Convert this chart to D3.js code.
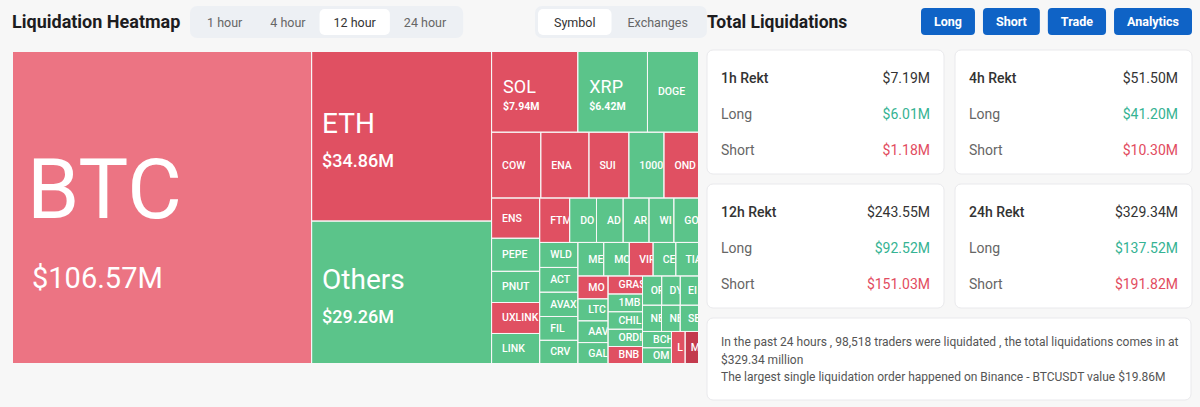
<!DOCTYPE html>
<html><head><meta charset="utf-8">
<script src="https://cdn.jsdelivr.net/npm/d3@7"></script>
<style>
html,body{margin:0;padding:0;background:#f7f7f7;}
svg{display:block;font-family:Roboto,"DejaVu Sans",sans-serif;}
</style></head><body>
<svg id="c" width="1200" height="407"></svg>
<script>
// ---------- data ----------
const symbols = ["BTC","ETH","Others","SOL","XRP","DOGE","COW","ENA","SUI","1000BONK","ONDO",
  "ENS","PEPE","PNUT","UXLINK","LINK","FTM","DOT","ADA","ARB","WIF","GOAT",
  "WLD","ACT","AVAX","FIL","CRV","ME","MOVE","VIRTUAL","CETUS","TIA",
  "MOODENG","LTC","AAVE","GALA","GRASS","1MBABYDOGE","CHILLGUY","ORDI","BNB",
  "OP","DYDX","EIGEN","NEAR","NEIRO","SEI","BCH","OM","LDO","MKR"];
const liqValues = [106.57,34.86,29.26,7.94,6.42,4.70,3.70,3.62,3.00,2.64,2.60,
  2.21,1.82,1.71,1.70,1.65,1.52,1.36,1.35,1.31,1.26,1.25,
  1.09,1.08,1.06,1.04,1.01,0.99,0.98,0.91,0.87,0.87,
  0.79,0.76,0.75,0.72,0.71,0.70,0.69,0.68,0.67,
  0.64,0.62,0.61,0.57,0.56,0.55,0.54,0.52,0.50,0.49];
// dominant side: P = short (light), R = short, D = short (deep), G = long
const sides = ["P","R","G","R","G","G","R","R","R","G","R",
  "R","G","G","R","G","R","G","G","G","G","G",
  "G","G","G","G","G","G","G","R","G","G",
  "R","G","G","G","R","G","G","G","R",
  "G","G","G","G","G","G","G","G","R","D"];
const timeTabs = ["1 hour","4 hour","12 hour","24 hour"];
const activeTimeTab = "12 hour";
const viewTabs = ["Symbol","Exchanges"];
const activeViewTab = "Symbol";
const actionButtons = ["Long","Short","Trade","Analytics"];
const periods = ["1h","4h","12h","24h"];
const rektTotals = [7.19,51.50,243.55,329.34];
const rektLongs = [6.01,41.20,92.52,137.52];
const rektShorts = [1.18,10.30,151.03,191.82];
const summaryLines = [
  "In the past 24 hours , 98,518 traders were liquidated , the total liquidations comes in at",
  "$329.34 million",
  "The largest single liquidation order happened on Binance - BTCUSDT value $19.86M"
];

// ---------- setup ----------
const svg = d3.select("#c");
const money = v => d3.format("$,.2f")(v) + "M";
const sideColor = d3.scaleOrdinal().domain(["P","R","D","G"])
  .range(["#ec7483","#e05062","#c33a4d","#5bc48a"]);

// ---------- left header ----------
svg.append("text").attr("x",12).attr("y",28).attr("font-size",18).attr("font-weight",700)
  .attr("fill","#1d1d1f").text("Liquidation Heatmap");

function tabGroup(x, y, h, labels, active, pad){
  const g = svg.append("g");
  const bg = g.append("rect").attr("x",x).attr("y",y).attr("height",h).attr("rx",7).attr("fill","#edf0f4");
  let cx = x + 3;
  labels.forEach(l => {
    const t = g.append("text").attr("font-size",12.5).attr("fill", l===active?"#333":"#666")
      .attr("dominant-baseline","central").attr("text-anchor","middle").text(l);
    const w = t.node().getComputedTextLength() + pad*2;
    if (l===active) g.insert("rect","text").attr("x",cx).attr("y",y+3).attr("width",w).attr("height",h-6)
      .attr("rx",5).attr("fill","#fff");
    t.attr("x", cx + w/2).attr("y", y + h/2);
    cx += w;
  });
  bg.attr("width", cx + 3 - x);
}
tabGroup(190, 6, 32, timeTabs, activeTimeTab, 14);
tabGroup(535, 6, 32, viewTabs, activeViewTab, 16);

// ---------- treemap ----------
const tmX = 13, tmY = 52, tmW = 685, tmH = 311;
const root = d3.hierarchy({children: symbols.map((s,i)=>({name:s, value:liqValues[i], side:sides[i]}))})
  .sum(d => d.value || 0)
  .sort((a,b) => b.value - a.value);
d3.treemap().tile(d3.treemapSquarify).size([tmW, tmH]).paddingInner(1)(root);

const tm = svg.append("g").attr("transform",`translate(${tmX},${tmY})`);
const defs = svg.append("defs");
const leaves = root.leaves();
leaves.forEach((d,i) => {
  defs.append("clipPath").attr("id","clip"+i).append("rect")
    .attr("x",d.x0).attr("y",d.y0).attr("width",d.x1-d.x0).attr("height",d.y1-d.y0);
});
const cell = tm.selectAll("g.cell").data(leaves).join("g").attr("class","cell")
  .attr("clip-path",(d,i)=>`url(#clip${i})`);
cell.append("rect")
  .attr("x",d=>d.x0).attr("y",d=>d.y0)
  .attr("width",d=>d.x1-d.x0).attr("height",d=>d.y1-d.y0)
  .attr("fill",d=>sideColor(d.data.side));

cell.each(function(d){
  const g = d3.select(this);
  const w = d.x1-d.x0, h = d.y1-d.y0, cy = (d.y0+d.y1)/2;
  if (w > 250) {
    g.append("text").attr("x",d.x0+14).attr("y",cy+10).attr("font-size",84).attr("fill","#fff").text(d.data.name);
    g.append("text").attr("x",d.x0+19).attr("y",cy+80).attr("font-size",29).attr("fill","#fff").text(money(d.data.value));
  } else if (w > 120) {
    g.append("text").attr("x",d.x0+10).attr("y",cy-3).attr("font-size",28).attr("fill","#fff").text(d.data.name);
    g.append("text").attr("x",d.x0+10).attr("y",cy+31).attr("font-size",18).attr("font-weight",500).attr("fill","#fff").text(money(d.data.value));
  } else if (w > 60 && h > 60) {
    g.append("text").attr("x",d.x0+11).attr("y",cy+1).attr("font-size",18).attr("fill","#fff").text(d.data.name);
    g.append("text").attr("x",d.x0+11).attr("y",cy+18).attr("font-size",10.5).attr("font-weight",700).attr("fill","#fff").text(money(d.data.value));
  } else {
    const pad = Math.min(10, 0.42*w);
    const t = g.append("text").attr("x",d.x0+pad).attr("y",cy).attr("dominant-baseline","central")
      .attr("font-size",10.5).attr("font-weight",500).attr("fill","#fff").text(d.data.name);
    // keep only the part of the symbol that shows inside its cell
    let s = d.data.name;
    while (s.length > 1 && t.node().getComputedTextLength() > w - pad + 4) {
      s = s.slice(0, -1); t.text(s);
    }
  }
});

// ---------- right header ----------
svg.append("text").attr("x",707).attr("y",28).attr("font-size",17.5).attr("font-weight",700)
  .attr("fill","#1d1d1f").text("Total Liquidations");
(function(){
  const g = svg.append("g");
  const widths = actionButtons.map(l => {
    const t = g.append("text").attr("font-size",12.5).attr("font-weight",700).text(l);
    const w = t.node().getComputedTextLength(); t.remove(); return w + 26;
  });
  let x = 1192 - d3.sum(widths) - 8*(actionButtons.length-1);
  actionButtons.forEach((l,i) => {
    g.append("rect").attr("x",x).attr("y",8).attr("width",widths[i]).attr("height",27).attr("rx",4).attr("fill","#0f63c6");
    g.append("text").attr("x",x+widths[i]/2).attr("y",21.5).attr("dominant-baseline","central")
      .attr("text-anchor","middle").attr("font-size",12.5).attr("font-weight",700).attr("fill","#fff").text(l);
    x += widths[i] + 8;
  });
})();

// ---------- cards ----------
function card(x,y,w,h){
  svg.append("rect").attr("x",x).attr("y",y).attr("width",w).attr("height",h).attr("rx",6)
    .attr("fill","#fff").attr("stroke","#e9e9ec");
}
const cardPos = [[707,50],[955,50],[707,184],[955,184]];
periods.forEach((p,i) => {
  const [x,y] = cardPos[i], w = 237, h = 124;
  card(x,y,w,h);
  const rows = [
    {label: p + " Rekt", value: money(rektTotals[i]), lc:"#333", vc:"#333", lw:500},
    {label: "Long", value: money(rektLongs[i]), lc:"#666", vc:"#35b393", lw:400},
    {label: "Short", value: money(rektShorts[i]), lc:"#666", vc:"#e24c60", lw:400}
  ];
  rows.forEach((r,k) => {
    const ty = y + 28 + k*36;
    svg.append("text").attr("x",x+14).attr("y",ty).attr("dominant-baseline","central")
      .attr("font-size",14).attr("font-weight",r.lw).attr("fill",r.lc).text(r.label);
    svg.append("text").attr("x",x+w-14).attr("y",ty).attr("dominant-baseline","central")
      .attr("text-anchor","end").attr("font-size",14).attr("fill",r.vc).text(r.value);
  });
});
card(707,318,484,82);
summaryLines.forEach((l,k) => {
  svg.append("text").attr("x",721).attr("y",342 + k*17.5).attr("dominant-baseline","central")
    .attr("font-size",12).attr("fill","#555").text(l);
});
</script>
</body></html>
